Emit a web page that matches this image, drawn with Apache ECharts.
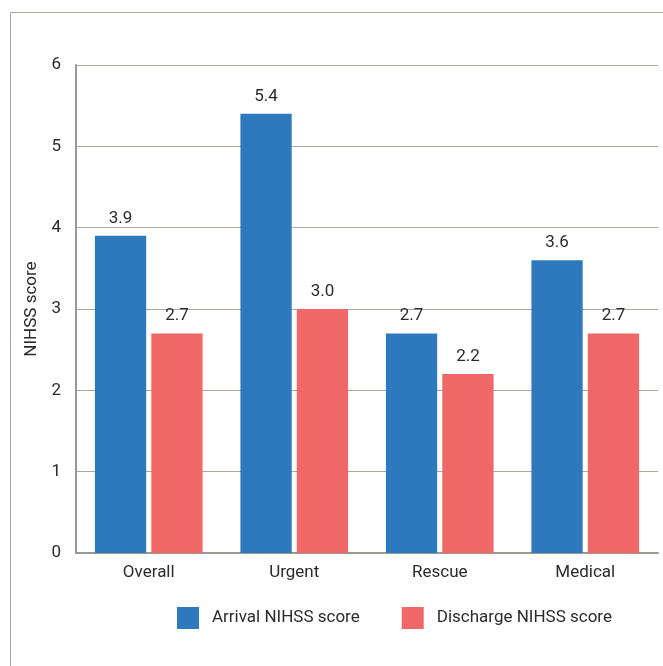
<!DOCTYPE html>
<html><head><meta charset="utf-8">
<script src="https://cdn.jsdelivr.net/npm/echarts@6/dist/echarts.min.js"></script>
<style>html,body{margin:0;padding:0;background:#fff}#c{width:663px;height:666px}</style>
</head><body><div id="c"></div>
<script>
const categories = ['Overall', 'Urgent', 'Rescue', 'Medical'];
const arrival = [3.9, 5.4, 2.7, 3.6];
const discharge = [2.7, 3.0, 2.2, 2.7];
const seriesNames = ['Arrival NIHSS score', 'Discharge NIHSS score'];
const yTicks = [0, 1, 2, 3, 4, 5, 6];

const FONT = 'Roboto';
const FS = 17;
const TXT = '#2b2b2b';
const chart = echarts.init(document.getElementById('c'), null, {renderer: 'canvas'});
const lbl = {show: true, position: 'top', distance: 9, color: TXT, fontSize: FS, fontFamily: FONT,
  formatter: p => p.value.toFixed(1)};
chart.setOption({
  animation: false,
  graphic: [{type: 'rect', shape: {x: 10.5, y: 12.5, width: 800, height: 800},
    style: {fill: 'none', stroke: '#a8a89a', lineWidth: 1}, silent: true}],
  legend: {top: 607, left: 177, itemWidth: 22, itemHeight: 22, itemGap: 42, padding: 0,
    icon: 'rect', textStyle: {color: TXT, fontSize: FS, fontFamily: FONT, padding: [0, 0, 0, 8]},
    data: seriesNames},
  grid: {left: 76, right: 5, top: 65, bottom: 113, containLabel: false},
  xAxis: {type: 'category', data: categories,
    axisLine: {lineStyle: {color: '#9a9a90', width: 2}}, axisTick: {show: false},
    axisLabel: {color: TXT, fontSize: FS, fontFamily: FONT, margin: 11}},
  yAxis: {type: 'value', min: 0, max: 6, interval: 1,
    name: 'NIHSS score', nameLocation: 'middle', nameGap: 36,
    nameTextStyle: {color: TXT, fontSize: FS, fontFamily: FONT},
    axisLine: {show: true, lineStyle: {color: '#9a9a90', width: 2}}, axisTick: {show: false},
    axisLabel: {color: TXT, fontSize: FS, fontFamily: FONT, margin: 15,
      formatter: v => yTicks.includes(v) ? String(v) : ''},
    splitLine: {lineStyle: {color: '#a8a8a0', width: 1}}},
  series: [
    {name: seriesNames[0], type: 'bar', data: arrival, itemStyle: {color: '#2e79be'},
      barGap: '10%', barCategoryGap: '26%', label: lbl},
    {name: seriesNames[1], type: 'bar', data: discharge, itemStyle: {color: '#f06767'},
      label: lbl}
  ]
});
</script></body></html>
